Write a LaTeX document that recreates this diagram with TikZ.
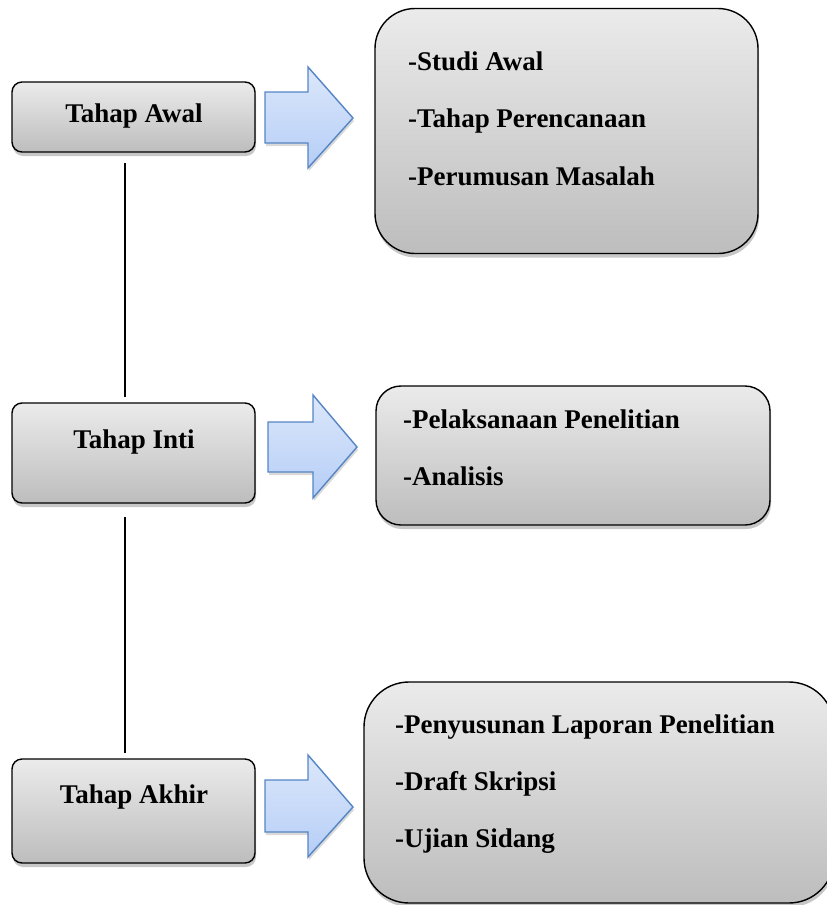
\documentclass[tikz,border=0pt]{standalone}
\usepackage{fontspec}
\setmainfont{Liberation Serif}
\usetikzlibrary{shadows,calc}
\definecolor{boxtop}{HTML}{EBEBEB}
\definecolor{boxbot}{HTML}{BDBDBD}
\definecolor{arrtop}{HTML}{DCE7FB}
\definecolor{arrbot}{HTML}{B5CEF6}
\definecolor{arrline}{HTML}{5585C4}
\tikzset{
  stage/.style={draw=black, line width=1.4pt, top color=boxtop, bottom color=boxbot,
    drop shadow={shadow xshift=1pt, shadow yshift=-4pt, opacity=0.22, fill=black},
    inner sep=0pt},
  label/.style={font=\fontsize{27}{30}\selectfont\bfseries, inner sep=0pt},
  blockarrow/.style={draw=arrline, line width=1.4pt, top color=arrtop, bottom color=arrbot,
    drop shadow={shadow xshift=1pt, shadow yshift=-3pt, opacity=0.15, fill=black}},
  link/.style={draw=black, line width=1.4pt}
}
\begin{document}
\begin{tikzpicture}[x=1pt,y=-1pt]
\useasboundingbox (0,0) rectangle (827,905);
% left stage boxes
\node[stage, rounded corners=10pt, minimum width=243pt, minimum height=70pt] (awal) at (133.5,117) {};
\node[stage, rounded corners=10pt, minimum width=243pt, minimum height=100pt] (inti) at (133.5,453) {};
\node[stage, rounded corners=10pt, minimum width=243pt, minimum height=104pt] (akhir) at (133.5,811) {};
\node[label, anchor=base] (tawal) at (134,122) {Tahap Awal};
\node[label, anchor=base] (tinti) at (134,448) {Tahap Inti};
\node[label, anchor=base] (takhir) at (134,803) {Tahap Akhir};
% connectors
\coordinate (l1a) at (125,163);
\coordinate (l1b) at (125,397);
\coordinate (l2a) at (125,517);
\coordinate (l2b) at (125,753);
\draw[link] (l1a) -- (l1b);
\draw[link] (l2a) -- (l2b);
% right detail boxes
\node[stage, rounded corners=40pt, minimum width=383pt, minimum height=245pt] (d1) at (566.5,131) {};
\node[stage, rounded corners=25pt, minimum width=394pt, minimum height=139pt] (d2) at (573,455.5) {};
\node[stage, rounded corners=45pt, minimum width=470pt, minimum height=221pt] (d3) at (599,792.5) {};
\node[label, anchor=base west] (s1) at (408,70) {-Studi Awal};
\node[label, anchor=base west] (s2) at (408,127) {-Tahap Perencanaan};
\node[label, anchor=base west] (s3) at (408,185) {-Perumusan Masalah};
\node[label, anchor=base west] (s4) at (403,428) {-Pelaksanaan Penelitian};
\node[label, anchor=base west] (s5) at (403,485) {-Analisis};
\node[label, anchor=base west] (s6) at (395,733) {-Penyusunan Laporan Penelitian};
\node[label, anchor=base west] (s7) at (395,790) {-Draft Skripsi};
\node[label, anchor=base west] (s8) at (395,847) {-Ujian Sidang};
% block arrows
\path[blockarrow] (265,92) -- (308,92) -- (308,67) -- (353,118) -- (308,168) -- (308,143) -- (265,143) -- cycle;
\path[blockarrow] (268,422) -- (313,422) -- (313,395) -- (357,447) -- (313,498) -- (313,472) -- (268,472) -- cycle;
\path[blockarrow] (265,780) -- (308,780) -- (308,755) -- (353,807) -- (308,857) -- (308,832) -- (265,832) -- cycle;
\end{tikzpicture}
\end{document}
